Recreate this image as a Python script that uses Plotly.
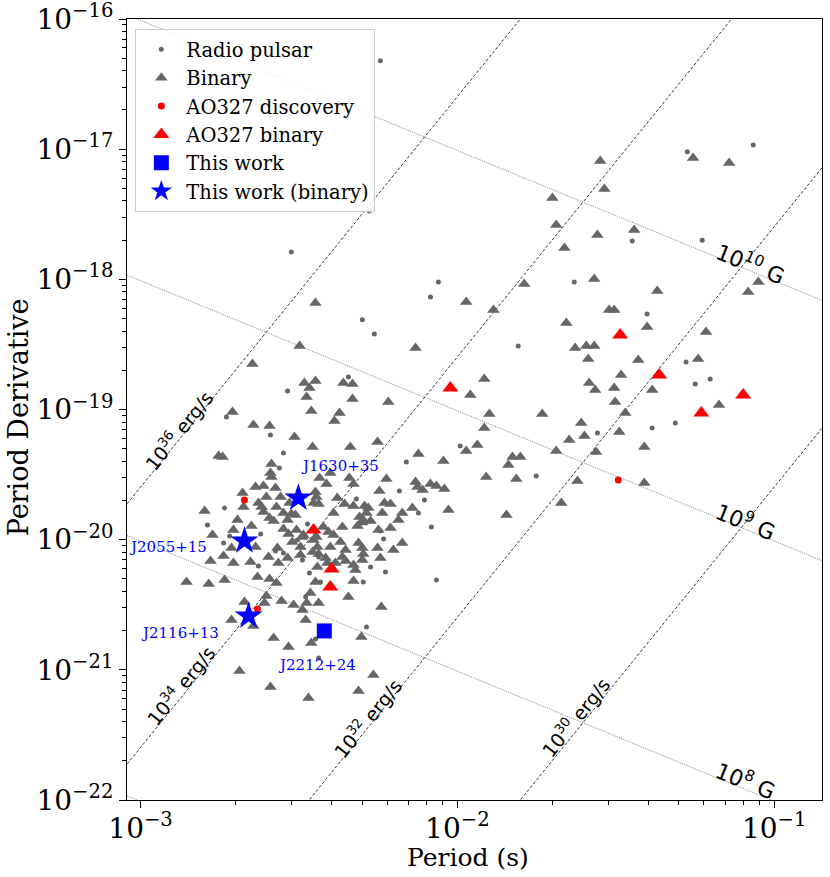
import numpy as np
import plotly.graph_objects as go

# ---------------- data (log10 P [s], log10 Pdot [s/s]) ----------------
radio_logP = [-2.243, -2.278, -2.524, -2.060, -2.085, -2.300, -2.262, -1.274, -1.066, -1.448,
              -1.227, -1.631, -1.401, -1.808, -1.278, -1.249, -1.202, -1.385, -1.312, -1.558,
              -1.991, -2.161, -1.751, -2.104, -2.123, -2.082, -2.066, -2.344, -2.183, -2.319,
              -2.536, -2.729, -2.590, -2.549, -2.562, -2.735, -2.473, -2.789, -2.719, -2.621,
              -2.738, -2.505, -2.574, -2.549, -2.628, -2.243, -2.233, -2.315, -2.274, -2.438,
              -2.227, -2.297, -2.467, -2.432, -2.479, -2.489, -2.448, -2.287, -2.438]
radio_logPdot = [-16.32, -17.475, -17.79, -18.02, -18.135, -18.31, -18.42, -17.02, -16.968, -17.705,
                 -17.70, -18.02, -18.266, -18.512, -18.635, -18.804, -18.765, -19.142, -19.103, -19.18,
                 -19.28, -19.403, -19.511, -19.695, -19.795, -19.902, -20.31, -18.75, -19.626, -19.687,
                 -18.858, -19.057, -19.196, -19.334, -19.449, -19.756, -19.879, -19.887, -19.972, -19.956,
                 -20.025, -20.002, -20.087, -20.102, -20.202, -19.933, -19.995, -20.025, -20.21, -20.133,
                 -20.248, -20.325, -20.256, -20.325, -20.44, -20.156, -20.763, -20.671, -20.909]

binary_pts = [
    (-2.448, -18.182), (-1.972, -18.174), (-1.886, -18.235), (-2.498, -18.512), (-2.132, -18.527),
    (-1.256, -17.068), (-1.142, -17.106), (-1.549, -17.091), (-1.536, -17.306), (-1.700, -17.375),
    (-1.688, -17.582), (-1.442, -17.621), (-1.558, -17.659), (-1.662, -17.759), (-1.050, -18.020),
    (-1.082, -18.097), (-1.789, -18.036), (-1.568, -17.997), (-1.369, -18.089), (-1.521, -18.235),
    (-1.505, -18.235), (-1.656, -18.335), (-1.401, -18.366), (-1.215, -18.404), (-1.628, -18.527),
    (-1.593, -18.512), (-1.568, -18.512), (-1.587, -18.612), (-1.429, -18.619), (-1.240, -18.612),
    (-1.483, -18.735), (-1.584, -18.796), (-1.565, -18.850), (-1.505, -18.835), (-1.385, -18.850),
    (-1.174, -18.965), (-1.915, -18.765), (-1.959, -18.888), (-1.502, -18.942), (-1.470, -19.027),
    (-1.899, -19.034), (-1.732, -19.034), (-1.609, -19.103), (-1.489, -19.173), (-1.915, -19.142),
    (-1.647, -19.234), (-1.599, -19.203), (-1.410, -19.288), (-1.972, -19.319), (-1.937, -19.272),
    (-2.123, -19.342), (-2.044, -19.395), (-1.826, -19.365), (-1.801, -19.365), (-1.839, -19.426),
    (-1.688, -19.319), (-1.562, -19.326), (-1.909, -19.518), (-1.814, -19.534), (-1.621, -19.549),
    (-1.410, -19.564), (-2.132, -19.557), (-2.085, -19.572), (-2.066, -19.587), (-2.041, -19.611),
    (-2.110, -19.618), (-2.142, -19.756), (-2.028, -19.772), (-1.672, -19.718), (-1.845, -19.810),
    (-2.174, -19.795), (-2.126, -19.595), (-2.483, -18.796), (-2.448, -18.781), (-2.467, -18.835),
    (-2.476, -18.904), (-2.360, -18.796), (-2.331, -18.804), (-2.331, -18.919), (-2.461, -19.011),
    (-2.372, -19.027), (-2.388, -19.088), (-2.218, -18.942), (-2.252, -19.249), (-2.457, -19.288),
    (-2.338, -19.288), (-2.224, -19.534), (-2.246, -19.626), (-2.435, -19.526), (-2.401, -19.488),
    (-2.413, -19.572), (-2.341, -19.526), (-2.328, -19.572), (-2.379, -19.680), (-2.356, -19.726),
    (-2.328, -19.741), (-2.293, -19.741), (-2.281, -19.756), (-2.230, -19.718), (-2.211, -19.726),
    (-2.445, -19.672), (-2.454, -19.718), (-2.438, -19.726), (-2.391, -19.795), (-2.309, -19.826),
    (-2.287, -19.795), (-2.237, -19.795), (-2.448, -19.634), (-2.186, -19.849), (-2.297, -19.849),
    (-2.274, -19.856), (-2.300, -19.868), (-2.423, -19.902), (-2.407, -19.941), (-2.391, -19.964),
    (-2.363, -19.902), (-2.315, -19.895), (-2.249, -19.925), (-2.211, -19.910), (-2.454, -20.002),
    (-2.442, -20.056), (-2.457, -20.094), (-2.438, -20.110), (-2.401, -20.056), (-2.369, -20.018),
    (-2.353, -20.079), (-2.363, -20.133), (-2.300, -20.064), (-2.297, -20.110), (-2.252, -20.064),
    (-2.202, -20.079), (-2.416, -20.141), (-2.410, -20.179), (-2.385, -20.179), (-2.353, -20.164),
    (-2.328, -20.194), (-2.300, -20.156), (-2.243, -20.141), (-2.174, -20.025), (-2.312, -20.025),
    (-2.322, -20.233), (-2.328, -20.317), (-2.344, -20.440), (-2.240, -20.517), (-2.442, -20.210),
    (-2.448, -20.325), (-2.464, -20.409), (-2.438, -20.486), (-2.489, -20.540), (-2.479, -20.617),
    (-2.461, -20.794), (-2.303, -20.747), (-2.265, -21.039), (-2.312, -21.162), (-2.470, -21.216),
    (-2.647, -18.650), (-2.710, -19.019), (-2.644, -19.119), (-2.593, -19.127), (-2.514, -19.211),
    (-2.754, -19.357), (-2.741, -19.365), (-2.587, -19.418), (-2.590, -19.488), (-2.587, -19.518),
    (-2.637, -19.595), (-2.612, -19.587), (-2.574, -19.603), (-2.678, -19.641), (-2.603, -19.672),
    (-2.558, -19.672), (-2.628, -19.718), (-2.618, -19.749), (-2.571, -19.749), (-2.798, -19.780),
    (-2.675, -19.749), (-2.530, -19.718), (-2.612, -19.787), (-2.593, -19.833), (-2.549, -19.795),
    (-2.524, -19.803), (-2.694, -19.849), (-2.580, -19.856), (-2.536, -19.849), (-2.511, -19.810),
    (-2.549, -19.918), (-2.533, -19.956), (-2.773, -19.964), (-2.707, -19.925), (-2.650, -19.895),
    (-2.445, -19.979), (-2.489, -19.979), (-2.521, -20.018), (-2.495, -20.056), (-2.713, -20.064),
    (-2.637, -20.056), (-2.568, -20.064), (-2.779, -20.164), (-2.738, -20.125), (-2.707, -20.179),
    (-2.653, -20.171), (-2.596, -20.133), (-2.565, -20.179), (-2.536, -20.141), (-2.495, -20.118),
    (-2.508, -19.925), (-2.486, -19.964), (-2.855, -20.325), (-2.785, -20.340), (-2.735, -20.310),
    (-2.631, -20.287), (-2.593, -20.302), (-2.571, -20.333), (-2.603, -20.433), (-2.555, -20.471),
    (-2.517, -20.502), (-2.476, -20.486), (-2.672, -20.479), (-2.713, -20.617), (-2.644, -20.663),
    (-2.609, -20.486), (-2.580, -20.755), (-2.533, -20.824), (-2.688, -21.009), (-2.590, -21.132),
]

ao327_disc_logP = [-2.672, -2.631, -1.492]
ao327_disc_logPdot = [-19.695, -20.532, -19.541]

ao327_bin_logP = [-2.454, -2.397, -2.401, -2.022, -1.486, -1.363, -1.098, -1.230]
ao327_bin_logPdot = [-19.925, -20.225, -20.363, -18.835, -18.427, -18.735, -18.888, -19.027]

work_names = ["J2212+24"]
work_logP = [-2.420]
work_logPdot = [-20.701]

work_bin_names = ["J1630+35", "J2055+15", "J2116+13"]
work_bin_logP = [-2.502, -2.672, -2.659]
work_bin_logPdot = [-19.680, -20.010, -20.586]

# reference lines
edot_values = [1e30, 1e32, 1e34, 1e36]     # erg/s
bfield_values = [1e7, 1e8, 1e9, 1e10]      # G
MOI = 1e45                                  # g cm^2

# axis limits
x_lim = [0.000906, 0.1416]
y_lim = [1e-22, 1e-16]

# ---------------- figure ----------------
GRAY = "#666666"
fig = go.Figure()

P_line = np.array(x_lim)
for E in edot_values:
    pd_line = E * P_line**3 / (4 * np.pi**2 * MOI)
    fig.add_trace(go.Scatter(x=P_line, y=pd_line, mode="lines", showlegend=False, hoverinfo="skip",
                             line=dict(color="black", width=0.8, dash="3px,2px")))
for B in bfield_values:
    pd_line = (B / 3.2e19) ** 2 / P_line
    fig.add_trace(go.Scatter(x=P_line, y=pd_line, mode="lines", showlegend=False, hoverinfo="skip",
                             line=dict(color="#555555", width=0.7, dash="1px,1px")))

p10 = lambda a: [10 ** v for v in a]

fig.add_trace(go.Scatter(x=p10(radio_logP), y=p10(radio_logPdot), mode="markers", name="Radio pulsar",
                         marker=dict(symbol="circle", size=5, color=GRAY)))
fig.add_trace(go.Scatter(x=p10([p for p, _ in binary_pts]), y=p10([q for _, q in binary_pts]),
                         mode="markers", name="Binary",
                         marker=dict(symbol="triangle-up", size=11, color=GRAY)))
fig.add_trace(go.Scatter(x=p10(ao327_disc_logP), y=p10(ao327_disc_logPdot), mode="markers",
                         name="AO327 discovery", marker=dict(symbol="circle", size=7, color="red")))
fig.add_trace(go.Scatter(x=p10(ao327_bin_logP), y=p10(ao327_bin_logPdot), mode="markers",
                         name="AO327 binary", marker=dict(symbol="triangle-up", size=14, color="red")))
fig.add_trace(go.Scatter(x=p10(work_logP), y=p10(work_logPdot), mode="markers", name="This work",
                         marker=dict(symbol="square", size=15, color="blue")))
fig.add_trace(go.Scatter(x=p10(work_bin_logP), y=p10(work_bin_logPdot), mode="markers",
                         name="This work (binary)", marker=dict(symbol="star", size=21, color="blue")))

annotations = []
# pulsar name labels (log10 P, log10 Pdot of the label centre)
name_label_pos = {"J1630+35": (-2.369, -19.434), "J2055+15": (-2.912, -20.056),
                  "J2116+13": (-2.877, -20.717), "J2212+24": (-2.442, -20.963)}
for nm, (lx, ly) in name_label_pos.items():
    annotations.append(dict(x=lx, y=ly, xref="x", yref="y", text=nm, showarrow=False,
                            font=dict(family="DejaVu Serif", size=15, color="blue"),
                            xanchor="center", yanchor="middle"))

edot_label_pos = [(-1.628, -21.362), (-2.284, -21.37), (-2.874, -21.116), (-2.88, -19.157)]
for E, (lx, ly) in zip(edot_values, edot_label_pos):
    annotations.append(dict(x=lx, y=ly, xref="x", yref="y",
                            text="10<sup>%d</sup> erg/s" % round(np.log10(E)), showarrow=False,
                            textangle=-51, font=dict(family="DejaVu Sans", size=19, color="black"),
                            xanchor="center", yanchor="middle"))
b_label_pos = [(-1.088, -21.846), (-1.088, -19.856), (-1.073, -17.874)]
for B, (lx, ly) in zip(bfield_values[1:], b_label_pos):
    annotations.append(dict(x=lx, y=ly, xref="x", yref="y",
                            text="10<sup>%d</sup> G" % round(np.log10(B)), showarrow=False,
                            textangle=22, font=dict(family="DejaVu Sans", size=22, color="black"),
                            xanchor="center", yanchor="middle"))

# axis titles
annotations.append(dict(x=0.49, y=0, xref="paper", yref="paper", text="Period (s)", showarrow=False,
                        xanchor="center", yanchor="top", yshift=-41,
                        font=dict(family="DejaVu Serif", size=25, color="black")))
annotations.append(dict(x=0, y=0.49, xref="paper", yref="paper", text="Period Derivative",
                        showarrow=False, textangle=-90, xanchor="center", yanchor="middle",
                        xshift=-109, font=dict(family="DejaVu Serif", size=27, color="black")))

x_major = [1e-3, 1e-2, 1e-1]
x_minor = [k * 10.0 ** e for e in range(-4, 0) for k in range(2, 10)]
y_major = [10.0 ** e for e in range(-22, -15)]
y_minor = [k * 10.0 ** e for e in range(-23, -15) for k in range(2, 10)]


def sup(e):
    return "10<sup>−%d</sup>" % (-e)


axis_common = dict(type="log", ticks="outside", ticklen=7, tickwidth=1, tickcolor="black",
                   showline=True, linecolor="black", linewidth=1, mirror=True, showgrid=False,
                   zeroline=False, automargin=False, ticklabeloverflow="allow",
                   tickfont=dict(family="DejaVu Serif", size=28, color="black"))

fig.update_layout(
    width=830, height=877,
    margin=dict(l=127, r=8, t=19, b=77),
    paper_bgcolor="white", plot_bgcolor="white",
    xaxis=dict(range=[np.log10(x_lim[0]), np.log10(x_lim[1])], tickmode="array", tickvals=x_major,
               ticktext=[sup(e) for e in (-3, -2, -1)], ticklabelstandoff=-4,
               minor=dict(tickmode="array", tickvals=x_minor, ticks="outside", ticklen=4,
                          tickcolor="black", showgrid=False), **axis_common),
    yaxis=dict(range=[np.log10(y_lim[0]), np.log10(y_lim[1])], tickmode="array", tickvals=y_major,
               ticktext=[sup(e) for e in range(-22, -15)],
               minor=dict(tickmode="array", tickvals=y_minor, ticks="outside", ticklen=4,
                          tickcolor="black", showgrid=False), **axis_common),
    legend=dict(x=0.012, y=0.987, xanchor="left", yanchor="top", bgcolor="rgba(255,255,255,0.85)",
                bordercolor="#cccccc", borderwidth=1, itemwidth=40,
                font=dict(family="DejaVu Serif", size=19.5, color="black")),
    annotations=annotations,
    showlegend=True,
)

fig.write_html("out.html", config={"displayModeBar": False},
               post_script="document.body.style.margin='0px';")
